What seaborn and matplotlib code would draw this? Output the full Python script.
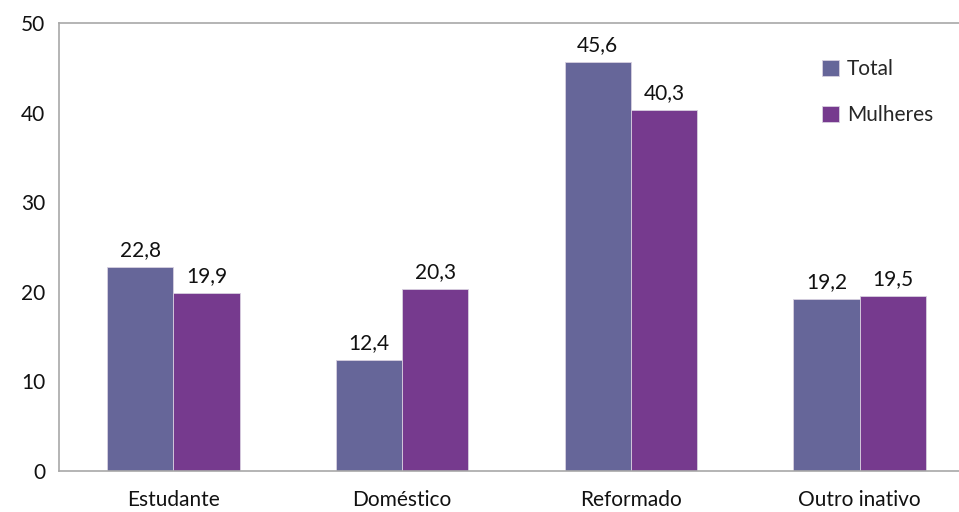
import pandas as pd
import matplotlib.pyplot as plt
import seaborn as sns

categories = ["Estudante", "Doméstico", "Reformado", "Outro inativo"]
total = [22.8, 12.4, 45.6, 19.2]
mulheres = [19.9, 20.3, 40.3, 19.5]
series = ["Total", "Mulheres"]
colors = ["#666699", "#763A8E"]


def build_df():
    rows = []
    for c, t, m in zip(categories, total, mulheres):
        rows.append({"Categoria": c, "Série": "Total", "Valor": t})
        rows.append({"Categoria": c, "Série": "Mulheres", "Valor": m})
    return pd.DataFrame(rows)


def main():
    df = build_df()
    sns.set_style("white")
    plt.rcParams["font.family"] = ["Lato", "DejaVu Sans"]

    fig = plt.figure(figsize=(9.59, 5.12), dpi=100)
    ax = fig.add_axes([59 / 959, 1 - 471 / 512, (974 - 59) / 959, (471 - 23) / 512])

    sns.barplot(
        data=df,
        x="Categoria",
        y="Valor",
        hue="Série",
        hue_order=series,
        palette=colors,
        saturation=1,
        width=0.58,
        gap=0,
        edgecolor="#d8d0e0",
        linewidth=0.6,
        ax=ax,
    )

    for container in ax.containers:
        ax.bar_label(
            container,
            labels=[f"{v:.1f}".replace(".", ",") for v in container.datavalues],
            padding=5,
            fontsize=15,
            color="#111111",
        )

    ax.set_ylim(0, 50)
    ax.set_xlim(-0.5, 3.5)
    ax.set_yticks(range(0, 51, 10))
    ax.set_xlabel("")
    ax.set_ylabel("")

    ax.set_xticks([0, 1, 2, 3])
    ax.set_xticklabels(categories, fontsize=15, color="#111111")
    ax.set_xticks([-0.5, 0.5, 1.5, 2.5, 3.5], minor=True)
    ax.tick_params(axis="x", which="major", length=0, pad=14)
    ax.tick_params(axis="x", which="minor", length=6, color="#a0a0a0", width=1)
    ax.tick_params(axis="y", length=6, color="#a0a0a0", width=1, labelsize=15,
                   labelcolor="#111111", pad=4)

    for side in ["left", "bottom", "top"]:
        ax.spines[side].set_color("#a8a8a8")
        ax.spines[side].set_linewidth(1.2)
    ax.spines["right"].set_visible(False)

    ax.legend(
        loc="upper left",
        frameon=False,
        fontsize=15,
        handlelength=0.8,
        handleheight=0.8,
        handletextpad=0.4,
        labelspacing=1.25,
        borderaxespad=0,
        borderpad=0,
    )
    leg = ax.get_legend()
    leg.set_bbox_to_anchor((822 / 959, 1 - 59 / 512), transform=fig.transFigure)

    fig.savefig("out.png", dpi=100)


if __name__ == "__main__":
    main()
